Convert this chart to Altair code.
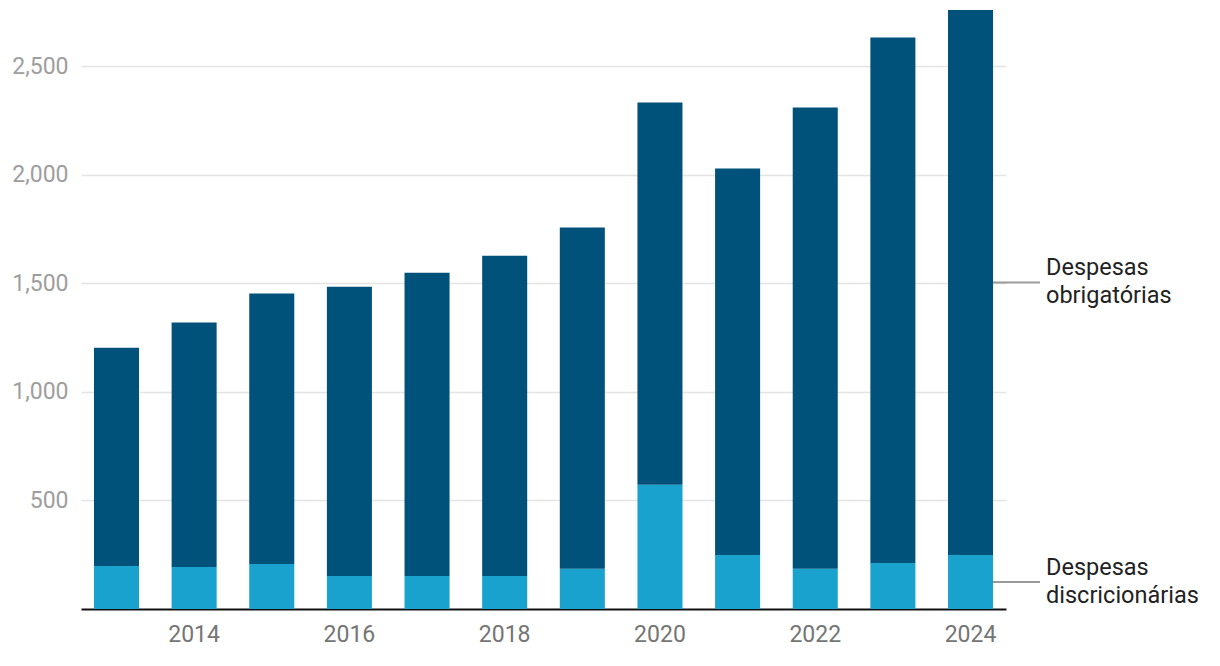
import altair as alt
import pandas as pd

years = list(range(2013, 2025))
discricionarias = [198, 193, 207, 152, 152, 152, 185, 572, 249, 185, 212, 249]
obrigatorias = [1005, 1126, 1246, 1332, 1396, 1475, 1572, 1760, 1779, 2124, 2419, 2509]
series = ["Despesas discricionárias", "Despesas obrigatórias"]
colors = ["#1aa2ce", "#00527a"]
y_ticks = [500, 1000, 1500, 2000, 2500]
x_ticks = [2014, 2016, 2018, 2020, 2022, 2024]
labels = ["Despesas\nobrigatórias", "Despesas\ndiscricionárias"]

rows = []
for i, yr in enumerate(years):
    rows.append({"ano": yr, "serie": series[0], "valor": discricionarias[i], "ordem": 0})
    rows.append({"ano": yr, "serie": series[1], "valor": obrigatorias[i], "ordem": 1})
df = pd.DataFrame(rows)

last_d = discricionarias[-1]
last_o = obrigatorias[-1]
ann = pd.DataFrame({"label": labels, "valor": [last_d + last_o / 2, last_d / 2]})

x_enc = alt.X(
    "ano:O",
    scale=alt.Scale(paddingInner=0.42, paddingOuter=0.167),
    axis=alt.Axis(
        values=x_ticks, title=None, labelAngle=0, ticks=False, domain=True,
        domainColor="#111111", domainWidth=2, labelColor="#757575",
        labelFontSize=23, labelPadding=14, labelFont="Roboto", grid=False,
    ),
)
y_scale = alt.Scale(domain=[0, 2758], nice=False)
y_axis = alt.Axis(
    values=y_ticks, title=None, ticks=False, domain=False,
    labelColor="#9e9e9e", labelFontSize=23, labelPadding=13,
    labelFont="Roboto", gridColor="#e4e4e4", gridWidth=1.5, format=",d",
)

bars = alt.Chart(df).mark_bar().encode(
    x=x_enc,
    y=alt.Y("valor:Q", stack="zero", scale=y_scale, axis=y_axis),
    color=alt.Color("serie:N", scale=alt.Scale(domain=series, range=colors), legend=None),
    order=alt.Order("ordem:Q", sort="ascending"),
)

rules = alt.Chart(ann).mark_rule(color="#999999", strokeWidth=2).encode(
    y=alt.Y("valor:Q", scale=y_scale, axis=y_axis),
    x=alt.value(912),
    x2=alt.value(959),
)

texts = alt.Chart(ann).mark_text(
    align="left", baseline="middle", lineBreak="\n", lineHeight=28,
    fontSize=23.5, font="Roboto", color="#222222", dy=-14,
).encode(
    y=alt.Y("valor:Q", scale=y_scale, axis=y_axis),
    x=alt.value(965),
    text="label:N",
)

chart = alt.layer(bars, rules, texts).properties(
    width=925,
    height=599,
    autosize=alt.AutoSizeParams(type="none"),
    padding={"left": 73, "top": 2, "right": 200, "bottom": 40},
).configure_view(stroke=None)

chart.save("out.html", embed_options={"renderer": "svg", "actions": False})
